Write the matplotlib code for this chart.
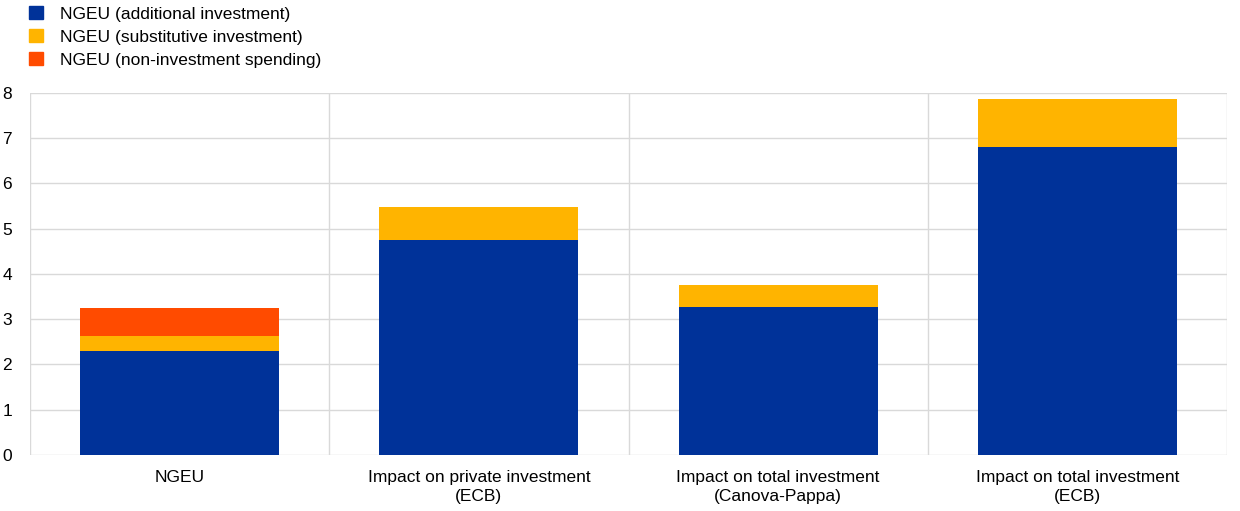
import matplotlib
matplotlib.use("Agg")
import matplotlib.pyplot as plt
import numpy as np
from matplotlib.patches import Patch

plt.rcParams['font.family'] = ['Liberation Sans', 'DejaVu Sans']

categories = ["NGEU", "Impact on private investment\n(ECB)",
              "Impact on total investment\n(Canova-Pappa)", "Impact on total investment\n(ECB)"]
additional = [2.30, 4.75, 3.27, 6.81]
substitutive = [0.33, 0.73, 0.48, 1.05]
non_investment = [0.61, 0.0, 0.0, 0.0]
series_names = ["NGEU (additional investment)", "NGEU (substitutive investment)",
                "NGEU (non-investment spending)"]
colors = ["#003299", "#FFB400", "#FF4B00"]

fig = plt.figure(figsize=(12.4, 5.11), dpi=100)
ax = fig.add_axes([30/1240, 56/511, 1197/1240, 362.3/511])

x = np.arange(len(categories))
w = 0.665
b1 = np.array(additional)
b2 = b1 + np.array(substitutive)
ax.bar(x, additional, w, color=colors[0], zorder=3)
ax.bar(x, substitutive, w, bottom=b1, color=colors[1], zorder=3)
ax.bar(x, non_investment, w, bottom=b2, color=colors[2], zorder=3)

ax.set_xlim(-0.5, len(categories) - 0.5)
ax.set_ylim(0, 8)
ax.set_yticks(range(0, 9))
ax.set_xticks(x)
ax.set_xticklabels(categories, fontsize=12.5, linespacing=1.35)
ax.tick_params(axis='both', length=0, labelsize=12.5)
ax.tick_params(axis='y', pad=13)
ax.tick_params(axis='x', pad=11)
for yv in range(0, 9):
    ax.axhline(yv, color="#d9d9d9", lw=1, zorder=1)
for xv in np.arange(-0.5, len(categories), 1.0):
    ax.axvline(xv, color="#d9d9d9", lw=1, zorder=1)
for s in ax.spines.values():
    s.set_visible(False)

handles = [Patch(color=c) for c in colors]
fig.legend(handles, series_names, loc="upper left", bbox_to_anchor=(29/1240, 1.0 - 6/511),
           frameon=False, fontsize=12.5, handlelength=0.8, handleheight=0.8,
           handletextpad=1.0, labelspacing=0.42, borderaxespad=0.0, borderpad=0.0)

fig.savefig("out.png", dpi=100)
